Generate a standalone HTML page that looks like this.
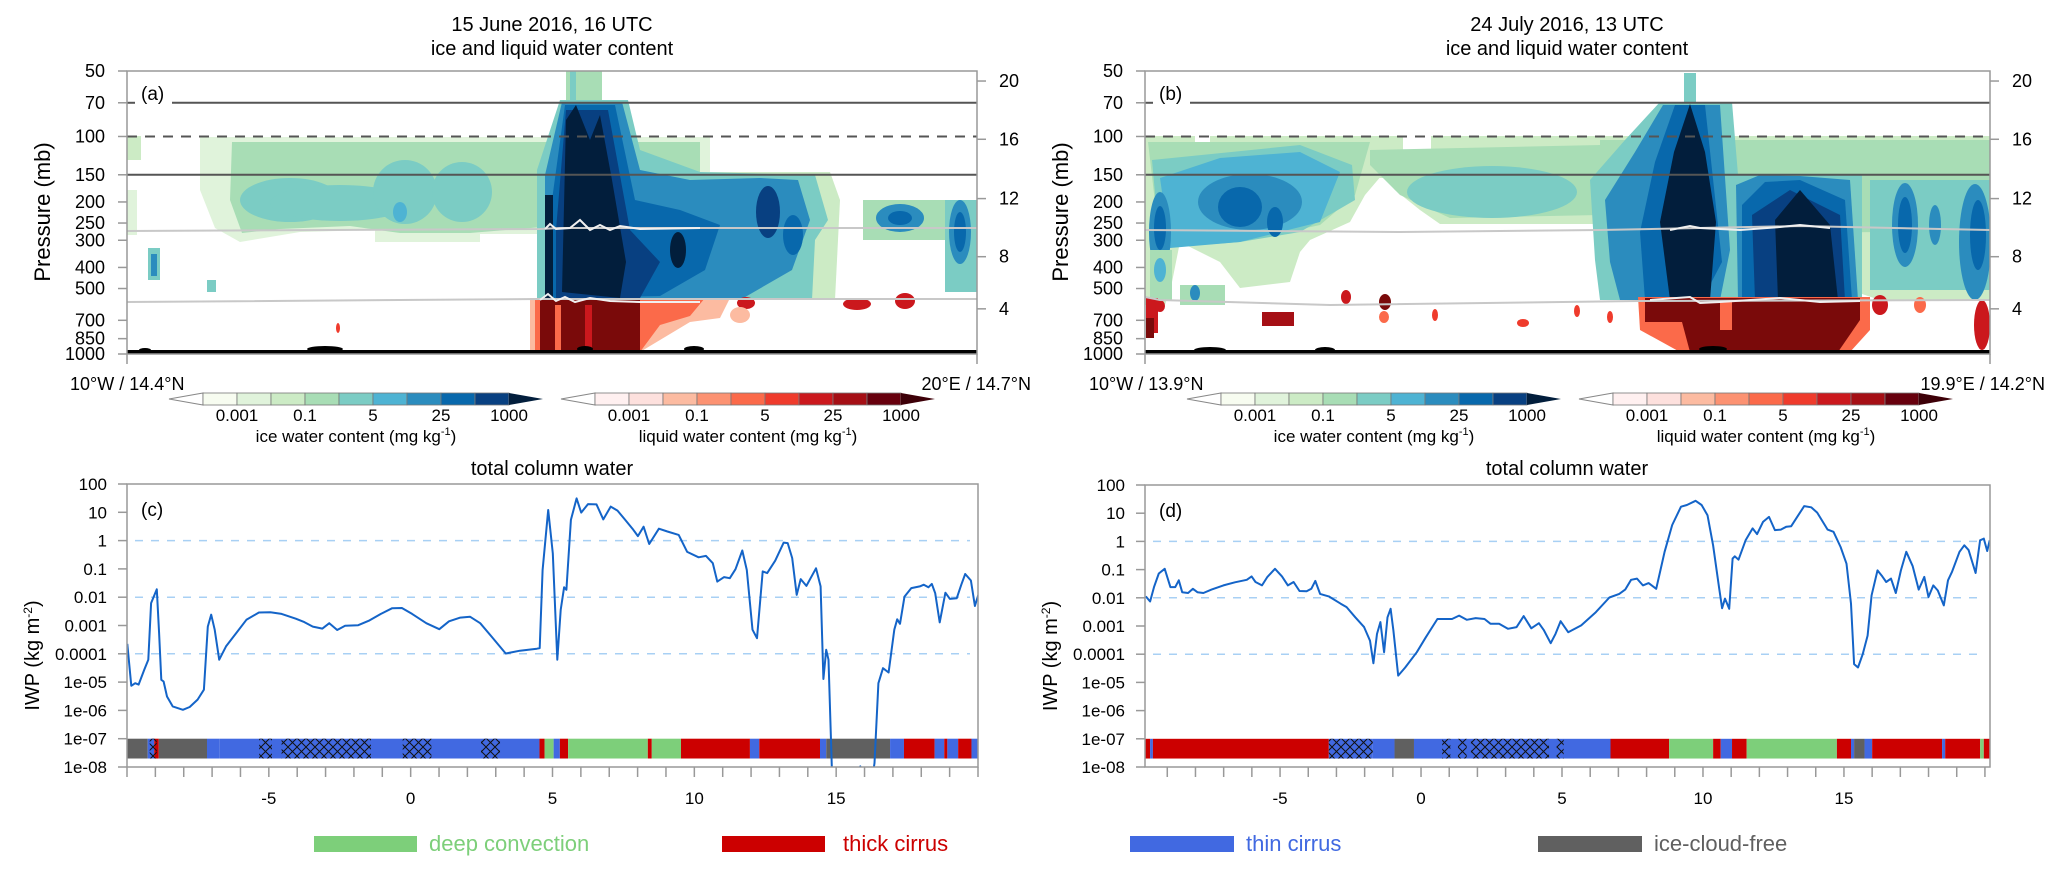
<!DOCTYPE html>
<html><head><meta charset="utf-8"><style>
html,body{margin:0;padding:0;background:#fff;}
svg{display:block;font-family:"Liberation Sans",sans-serif;}
</style></head><body>
<svg id="fig" width="2067" height="878" viewBox="0 0 2067 878" xmlns="http://www.w3.org/2000/svg">
<defs>
<pattern id="hatch" width="9" height="9" patternUnits="userSpaceOnUse">
<path d="M0,0 L9,9 M9,0 L0,9" stroke="#111" stroke-width="1" fill="none"/>
</pattern>
<clipPath id="clipA"><rect x="127" y="71" width="850" height="283"/></clipPath>
<clipPath id="clipB"><rect x="1145" y="71" width="845" height="283"/></clipPath>
<clipPath id="clipC"><rect x="127" y="484" width="851" height="283"/></clipPath>
<clipPath id="clipD"><rect x="1145" y="485" width="845" height="282"/></clipPath>
</defs>

<!-- Titles -->
<text x="552" y="31" font-size="20" text-anchor="middle">15 June 2016, 16 UTC</text>
<text x="552" y="55" font-size="20" text-anchor="middle">ice and liquid water content</text>
<text x="1567" y="31" font-size="20" text-anchor="middle">24 July 2016, 13 UTC</text>
<text x="1567" y="55" font-size="20" text-anchor="middle">ice and liquid water content</text>
<text x="552" y="475" font-size="20" text-anchor="middle">total column water</text>
<text x="1567" y="475" font-size="20" text-anchor="middle">total column water</text>

<!-- Panel a contour field -->
<g clip-path="url(#clipA)">
<rect x="127" y="136" width="14" height="24" fill="#ccebc5"/>
<rect x="127" y="190" width="10" height="45" fill="#e0f3db"/>
<polygon fill="#e0f3db" points="200,137 710,137 710,180 560,180 560,234 480,234 480,242 375,242 375,230 300,232 240,242 215,228 200,190"/>
<polygon fill="#a8ddb5" points="232,142 700,142 700,172 560,172 555,226 470,233 400,233 350,226 280,229 242,233 230,200"/>
<ellipse cx="290" cy="200" rx="50" ry="22" fill="#7bccc4"/>
<ellipse cx="340" cy="203" rx="70" ry="18" fill="#7bccc4"/>
<ellipse cx="405" cy="192" rx="32" ry="32" fill="#7bccc4"/>
<ellipse cx="462" cy="192" rx="30" ry="30" fill="#7bccc4"/>
<ellipse cx="400" cy="212" rx="7" ry="10" fill="#4eb3d3"/>
<rect x="148" y="248" width="12" height="32" fill="#7bccc4"/>
<rect x="151" y="254" width="6" height="22" fill="#2b8cbe"/>
<rect x="207" y="280" width="9" height="12" fill="#7bccc4"/>
<rect x="566" y="71" width="36" height="35" fill="#a8ddb5"/>
<rect x="570" y="71" width="6" height="35" fill="#7bccc4"/>
<polygon fill="#ccebc5" points="700,172 830,172 840,200 835,300 700,300"/>
<polygon fill="#7bccc4" points="537,170 560,100 628,100 640,150 700,172 815,175 828,220 815,240 812,300 537,300"/>
<polygon fill="#2b8cbe" points="545,175 562,102 622,102 640,170 690,180 760,178 798,180 810,220 792,270 740,300 545,300"/>
<polygon fill="#0868ac" points="552,200 565,105 615,105 635,200 680,210 720,225 705,270 660,296 552,298"/>
<polygon fill="#084081" points="556,230 566,110 608,110 630,230 660,262 640,298 556,298"/>
<ellipse cx="768" cy="212" rx="12" ry="26" fill="#084081"/>
<ellipse cx="793" cy="235" rx="10" ry="20" fill="#0868ac"/>
<ellipse cx="678" cy="250" rx="8" ry="18" fill="#021e3c"/>
<polygon fill="#021e3c" points="562,292 566,120 576,105 590,140 600,115 612,180 626,262 620,298"/>
<rect x="545" y="195" width="8" height="103" fill="#021e3c"/>
<rect x="863" y="200" width="94" height="40" fill="#a8ddb5"/>
<ellipse cx="900" cy="218" rx="24" ry="14" fill="#2b8cbe"/>
<ellipse cx="900" cy="218" rx="12" ry="7" fill="#0868ac"/>
<rect x="945" y="200" width="32" height="92" fill="#7bccc4"/>
<ellipse cx="960" cy="232" rx="11" ry="32" fill="#2b8cbe"/>
<ellipse cx="960" cy="232" rx="6" ry="20" fill="#0868ac"/>
<polygon fill="#fcbba1" points="530,298 730,298 720,318 690,322 660,340 640,352 530,352"/>
<polygon fill="#fb6a4a" points="535,298 705,298 690,316 660,325 640,352 535,352"/>
<polygon fill="#7a0a0a" points="540,300 640,300 640,352 540,352"/>
<rect x="555" y="305" width="6" height="47" fill="#fb6a4a"/>
<rect x="585" y="305" width="7" height="47" fill="#cb181d"/>
<ellipse cx="746" cy="303" rx="9" ry="6" fill="#cb181d"/>
<ellipse cx="857" cy="304" rx="14" ry="6" fill="#cb181d"/>
<ellipse cx="905" cy="301" rx="10" ry="8" fill="#cb181d"/>
<ellipse cx="740" cy="315" rx="10" ry="8" fill="#fcbba1"/>
<ellipse cx="338" cy="328" rx="2" ry="5" fill="#ef3b2c"/>
<polyline fill="none" stroke="#c8c8c8" stroke-width="2" points="127,231 540,229 560,228 977,228"/>
<polyline fill="none" stroke="#f0f0f0" stroke-width="2" points="545,229 550,224 556,229 570,228 580,220 590,230 600,225 610,230 620,226 640,229 700,228"/>
<polyline fill="none" stroke="#c8c8c8" stroke-width="2" points="127,302 540,299 977,299"/>
<polyline fill="none" stroke="#f0f0f0" stroke-width="2" points="540,300 548,294 556,301 565,297 575,302 590,298 610,301 640,302 700,302"/>
<rect x="127" y="350" width="850" height="4" fill="#000"/>
<ellipse cx="145" cy="350" rx="6" ry="2" fill="#000"/>
<ellipse cx="325" cy="349" rx="18" ry="3" fill="#000"/>
<ellipse cx="585" cy="349" rx="8" ry="3" fill="#000"/>
<ellipse cx="694" cy="349" rx="10" ry="3" fill="#000"/>
</g>

<!-- Panel b contour field -->
<g clip-path="url(#clipB)">
<rect x="1145" y="136" width="845" height="42" fill="#ccebc5"/>
<polygon fill="#ccebc5" points="1145,136 1382,136 1382,175 1365,195 1350,222 1310,240 1300,252 1290,282 1240,288 1220,262 1180,242 1172,282 1165,305 1145,305"/>
<polygon fill="#ccebc5" points="1382,136 1605,136 1605,224 1440,224 1420,210 1395,190 1382,175"/>
<polygon fill="#ccebc5" points="1600,136 1990,136 1990,300 1880,300 1850,290 1600,245"/>
<rect x="1195" y="136" width="15" height="20" fill="#fff"/>
<rect x="1403" y="136" width="28" height="22" fill="#fff"/>
<polygon fill="#a8ddb5" points="1148,142 1370,142 1355,195 1320,225 1250,240 1160,245"/>
<polygon fill="#a8ddb5" points="1370,150 1600,145 1600,215 1450,218 1400,195 1370,165"/>
<polygon fill="#a8ddb5" points="1600,140 1990,140 1990,230 1880,232 1600,235"/>
<polygon fill="#7bccc4" points="1152,160 1300,145 1352,165 1355,200 1300,232 1240,242 1160,248"/>
<ellipse cx="1492" cy="192" rx="85" ry="26" fill="#7bccc4"/>
<polygon fill="#4eb3d3" points="1160,178 1220,158 1300,152 1340,172 1320,222 1240,242 1170,248"/>
<ellipse cx="1250" cy="202" rx="52" ry="28" fill="#2b8cbe"/>
<ellipse cx="1160" cy="232" rx="11" ry="40" fill="#2b8cbe"/>
<ellipse cx="1240" cy="207" rx="22" ry="20" fill="#0868ac"/>
<ellipse cx="1160" cy="228" rx="6" ry="22" fill="#0868ac"/>
<ellipse cx="1275" cy="222" rx="8" ry="15" fill="#0868ac"/>
<rect x="1150" y="250" width="22" height="50" fill="#a8ddb5"/>
<ellipse cx="1160" cy="270" rx="6" ry="12" fill="#4eb3d3"/>
<rect x="1180" y="285" width="45" height="20" fill="#a8ddb5"/>
<ellipse cx="1195" cy="293" rx="5" ry="8" fill="#2b8cbe"/>
<rect x="1684" y="73" width="12" height="32" fill="#7bccc4"/>
<polygon fill="#7bccc4" points="1590,180 1625,140 1660,102 1732,102 1738,175 1732,300 1600,300 1595,260"/>
<polygon fill="#2b8cbe" points="1605,200 1635,152 1663,105 1720,105 1730,250 1720,300 1620,300 1610,262"/>
<polygon fill="#0868ac" points="1640,232 1655,162 1675,105 1705,105 1722,262 1702,300 1645,300"/>
<polygon fill="#021e3c" points="1670,300 1660,222 1674,152 1690,104 1705,152 1716,222 1710,300"/>
<rect x="1732" y="175" width="130" height="128" fill="#7bccc4"/>
<polygon fill="#2b8cbe" points="1736,185 1760,175 1800,176 1850,180 1858,300 1738,300"/>
<polygon fill="#0868ac" points="1742,205 1765,182 1800,180 1845,200 1852,300 1742,300"/>
<polygon fill="#084081" points="1752,215 1790,190 1840,215 1845,300 1755,300"/>
<polygon fill="#021e3c" points="1775,220 1800,190 1830,225 1838,300 1778,300"/>
<rect x="1870" y="180" width="120" height="110" fill="#7bccc4"/>
<ellipse cx="1905" cy="225" rx="13" ry="42" fill="#2b8cbe"/>
<ellipse cx="1905" cy="225" rx="7" ry="28" fill="#0868ac"/>
<ellipse cx="1935" cy="225" rx="6" ry="20" fill="#2b8cbe"/>
<ellipse cx="1975" cy="242" rx="16" ry="58" fill="#2b8cbe"/>
<ellipse cx="1978" cy="235" rx="8" ry="35" fill="#0868ac"/>
<polygon fill="#fb6a4a" points="1638,297 1870,297 1870,330 1850,352 1680,352 1640,330"/>
<polygon fill="#7a0a0a" points="1645,298 1860,298 1860,320 1838,352 1690,352 1682,322 1645,322"/>
<rect x="1720" y="300" width="12" height="30" fill="#fb6a4a"/>
<rect x="1146" y="298" width="12" height="35" fill="#cb181d"/>
<rect x="1146" y="318" width="8" height="20" fill="#7a0a0a"/>
<rect x="1262" y="312" width="32" height="14" fill="#a50f15"/>
<ellipse cx="1160" cy="306" rx="5" ry="6" fill="#cb181d"/>
<ellipse cx="1346" cy="297" rx="5" ry="7" fill="#cb181d"/>
<ellipse cx="1385" cy="302" rx="6" ry="8" fill="#7a0a0a"/>
<ellipse cx="1384" cy="317" rx="5" ry="6" fill="#fb6a4a"/>
<ellipse cx="1435" cy="315" rx="3" ry="6" fill="#ef3b2c"/>
<ellipse cx="1523" cy="323" rx="6" ry="4" fill="#ef3b2c"/>
<ellipse cx="1577" cy="311" rx="3" ry="6" fill="#ef3b2c"/>
<ellipse cx="1610" cy="317" rx="3" ry="6" fill="#ef3b2c"/>
<ellipse cx="1880" cy="305" rx="8" ry="10" fill="#cb181d"/>
<ellipse cx="1920" cy="305" rx="6" ry="8" fill="#fb6a4a"/>
<ellipse cx="1982" cy="325" rx="8" ry="25" fill="#cb181d"/>
<polyline fill="none" stroke="#c8c8c8" stroke-width="2" points="1145,230 1400,232 1600,230 1700,228 1800,226 1990,230"/>
<polyline fill="none" stroke="#f0f0f0" stroke-width="2" points="1670,230 1690,226 1700,228 1740,230 1780,227 1800,225 1830,228"/>
<polyline fill="none" stroke="#c8c8c8" stroke-width="2" points="1145,297 1160,300 1330,305 1640,301 1990,300"/>
<polyline fill="none" stroke="#f0f0f0" stroke-width="2" points="1650,300 1690,297 1700,303 1720,302 1780,298 1820,302 1860,301"/>
<rect x="1145" y="350" width="845" height="4" fill="#000"/>
<ellipse cx="1210" cy="350" rx="16" ry="3" fill="#000"/>
<ellipse cx="1325" cy="350" rx="10" ry="3" fill="#000"/>
<ellipse cx="1713" cy="349" rx="14" ry="3" fill="#000"/>
</g>

<g id="axesAB"></g>
<g id="colorbars"></g>
<g id="iwp"></g>

<g font-size="22">
<rect x="314" y="836" width="103" height="16" fill="#7dcf7a"/>
<text x="429" y="851" fill="#7dcf7a">deep convection</text>
<rect x="722" y="836" width="103" height="16" fill="#cc0000"/>
<text x="843" y="851" fill="#cc0000">thick cirrus</text>
<rect x="1130" y="836" width="104" height="16" fill="#4169e1"/>
<text x="1246" y="851" fill="#4169e1">thin cirrus</text>
<rect x="1538" y="836" width="104" height="16" fill="#606060"/>
<text x="1654" y="851" fill="#606060">ice-cloud-free</text>
</g>
</svg>

<script>
const pressureTicks = [50,70,100,150,200,250,300,400,500,700,850,1000];
const kmTicks = [20,16,12,8,4];
const kmPressure = [55.6,103,193,357,620];
const iwpTickLabels = ["100","10","1","0.1","0.01","0.001","0.0001","1e-05","1e-06","1e-07","1e-08"];
const xTickLabels = [-5,0,5,10,15];
const gridLogs = [0,-2,-4];
const cbLabels = ["0.001","0.1","5","25","1000"];
const iceColors = ["#f7fcf0","#e0f3db","#ccebc5","#a8ddb5","#7bccc4","#4eb3d3","#2b8cbe","#0868ac","#084081"];
const liqColors = ["#fff0f0","#fde0dd","#fcbba1","#fc9272","#fb6a4a","#ef3b2c","#cb181d","#a50f15","#67000d"];

const cLon = [-9.99,-9.85,-9.71,-9.59,-9.39,-9.25,-9.15,-8.95,-8.87,-8.79,-8.71,-8.59,-8.39,-8.03,-7.79,-7.51,-7.29,-7.15,-7.03,-6.91,-6.75,-6.51,-6.15,-5.79,-5.35,-4.95,-4.55,-4.05,-3.75,-3.45,-3.11,-2.87,-2.59,-2.31,-1.85,-1.45,-1.05,-0.65,-0.31,0.05,0.55,1.01,1.35,1.75,2.09,2.45,2.85,3.35,3.85,4.45,4.55,4.65,4.85,5.01,5.17,5.29,5.41,5.49,5.65,5.85,6.01,6.25,6.55,6.79,7.05,7.29,7.55,7.85,8.01,8.21,8.41,8.75,9.05,9.45,9.75,10.15,10.41,10.65,10.81,11.05,11.25,11.45,11.69,11.85,12.05,12.21,12.41,12.57,12.85,13.15,13.29,13.45,13.61,13.75,13.95,14.29,14.45,14.55,14.65,14.73,14.85,15.05,15.65,15.85,16.15,16.35,16.49,16.65,16.85,17.05,17.15,17.25,17.41,17.65,17.95,18.09,18.25,18.37,18.49,18.65,18.85,19.01,19.25,19.41,19.55,19.75,19.89,20.01];
const cLogIWP = [-3.65,-5.13,-5.04,-5.09,-4.56,-4.21,-2.21,-1.72,-3.27,-4.92,-4.98,-5.51,-5.86,-5.98,-5.88,-5.62,-5.27,-3.04,-2.62,-3.15,-4.21,-3.74,-3.27,-2.80,-2.54,-2.53,-2.59,-2.76,-2.88,-3.04,-3.11,-2.92,-3.16,-3.01,-2.99,-2.82,-2.59,-2.39,-2.38,-2.59,-2.92,-3.13,-2.85,-2.72,-2.69,-2.92,-3.39,-3.99,-3.89,-3.82,-3.80,-1.04,1.08,-0.45,-4.21,-2.45,-1.65,-1.74,0.73,1.49,0.99,1.29,1.28,0.75,1.20,1.06,0.75,0.38,0.16,0.49,-0.12,0.42,0.32,0.20,-0.40,-0.59,-0.54,-0.80,-1.45,-1.29,-1.33,-1.01,-0.35,-1.04,-3.15,-3.45,-1.09,-1.15,-0.71,-0.07,-0.09,-0.62,-1.92,-1.36,-1.60,-0.98,-1.62,-4.89,-3.86,-4.21,-8.1,-9.9,-9.5,-7.98,-9.3,-7.86,-5.04,-4.51,-4.66,-3.15,-2.78,-2.94,-1.98,-1.68,-1.62,-1.56,-1.65,-1.53,-1.86,-2.89,-1.84,-2.06,-2.04,-1.56,-1.18,-1.41,-2.31,-1.92];

const dLon = [-9.76,-9.61,-9.47,-9.30,-9.09,-8.89,-8.72,-8.59,-8.47,-8.26,-8.09,-7.93,-7.72,-7.43,-7.01,-6.60,-6.18,-6.01,-5.87,-5.64,-5.45,-5.18,-4.93,-4.72,-4.52,-4.31,-4.06,-3.89,-3.75,-3.58,-3.27,-2.85,-2.64,-2.33,-2.02,-1.81,-1.69,-1.56,-1.44,-1.31,-1.19,-1.08,-0.98,-0.81,-0.56,-0.15,0.17,0.58,0.89,1.10,1.35,1.62,1.94,2.25,2.46,2.77,3.08,3.39,3.64,3.91,4.18,4.35,4.60,4.77,4.95,5.22,5.68,6.20,6.68,7.03,7.24,7.45,7.66,7.87,8.07,8.34,8.49,8.64,8.91,9.22,9.43,9.74,9.95,10.16,10.36,10.57,10.68,10.78,10.93,11.05,11.13,11.26,11.51,11.76,11.92,12.13,12.34,12.55,12.76,12.96,13.13,13.38,13.59,13.84,14.05,14.42,14.63,14.88,15.09,15.25,15.36,15.50,15.67,15.84,15.98,16.19,16.36,16.50,16.67,16.84,17.02,17.21,17.44,17.65,17.85,18.00,18.17,18.33,18.54,18.69,18.83,19.10,19.27,19.42,19.67,19.83,19.96,20.08,20.17];
const dLogIWP = [-1.95,-2.13,-1.62,-1.14,-0.97,-1.62,-1.62,-1.38,-1.80,-1.83,-1.68,-1.80,-1.83,-1.71,-1.56,-1.45,-1.36,-1.24,-1.44,-1.56,-1.26,-0.97,-1.24,-1.56,-1.44,-1.76,-1.77,-1.68,-1.40,-1.86,-1.95,-2.21,-2.33,-2.69,-3.04,-3.52,-4.32,-3.28,-2.86,-3.93,-2.69,-2.39,-3.16,-4.76,-4.47,-3.93,-3.40,-2.75,-2.75,-2.75,-2.63,-2.78,-2.72,-2.75,-2.92,-2.92,-3.10,-3.04,-2.65,-3.08,-2.90,-3.14,-3.61,-3.28,-2.83,-3.22,-2.98,-2.51,-1.99,-1.86,-1.71,-1.36,-1.32,-1.56,-1.48,-1.68,-1.03,-0.37,0.58,1.23,1.29,1.44,1.29,0.93,-0.14,-1.62,-2.37,-2.03,-2.39,-0.61,-0.53,-0.65,0.04,0.46,0.26,0.69,0.87,0.40,0.42,0.52,0.54,0.93,1.25,1.21,1.02,0.42,0.34,-0.20,-0.79,-2.21,-4.35,-4.47,-3.99,-3.34,-1.91,-1.03,-1.24,-1.44,-1.32,-1.83,-1.03,-0.37,-0.88,-1.71,-1.26,-1.97,-1.56,-1.74,-2.27,-1.38,-1.09,-0.37,-0.14,-0.31,-1.12,0.04,0.10,-0.34,0.04];

const cStripStart = [-10,-9.27,-9.04,-8.88,-7.18,-6.73,4.54,4.72,5.04,5.26,5.55,8.36,8.50,9.53,11.96,12.29,14.43,14.65,16.90,17.39,18.47,18.81,18.92,19.30,19.77];
const cStripEnd   = [-9.27,-9.04,-8.88,-7.18,-6.73,4.54,4.72,5.04,5.26,5.55,8.36,8.50,9.53,11.96,12.29,14.43,14.65,16.90,17.39,18.47,18.81,18.92,19.30,19.77,20.0];
const cStripClass = ["free","thin","thick","free","thin","thin","thick","deep","thin","thick","deep","thick","deep","thick","thin","thick","thin","free","thin","thick","thin","thick","thin","thick","thin"];
const cHatchStart = [-5.34,-4.55,-0.28,2.48,-9.2];
const cHatchEnd   = [-4.89,-1.40,0.73,3.15,-8.95];

const dStripStart = [-9.8,-9.61,-9.51,-3.27,-1.71,-0.94,-0.25,6.72,8.80,10.36,10.63,11.03,11.55,14.75,15.25,15.36,15.73,16.00,18.48,18.59,19.83,19.96];
const dStripEnd   = [-9.61,-9.51,-3.27,-1.71,-0.94,-0.25,6.72,8.80,10.36,10.63,11.03,11.55,14.75,15.25,15.36,15.73,16.00,18.48,18.59,19.83,19.96,20.17];
const dStripClass = ["thick","thin","thick","thin","thin","free","thin","thick","deep","thick","thin","thick","deep","thick","thin","free","thin","thick","thin","thick","deep","thick"];
const dHatchStart = [-3.27,0.75,1.31,1.77,4.81];
const dHatchEnd   = [-1.71,1.04,1.62,4.54,5.06];

const classColor = {deep:"#7dcf7a", thick:"#cc0000", thin:"#4169e1", free:"#606060"};

const NS = "http://www.w3.org/2000/svg";
function mk(tag, attrs, parent){
  const e = document.createElementNS(NS, tag);
  for (const k in attrs) e.setAttribute(k, attrs[k]);
  parent.appendChild(e);
  return e;
}
const L50 = Math.log10(50), L1000 = Math.log10(1000);
function yP(p){ return 71 + (Math.log10(p)-L50)/(L1000-L50)*283; }
function addText(parent, x, y, s, size, anchor, name){
  const t = mk('text',{x:x,y:y,'font-size':size,'text-anchor':anchor||'start'},parent);
  t.textContent = s;
  
  
  return t;
}

const axAB = document.getElementById('axesAB');
[[127,977,"a"],[1145,1990,"b"]].forEach(([x0,x1,k])=>{
  const g = mk('g',{},axAB);
  
  
  const l70 = mk('line',{x1:x0+45,x2:x1,y1:yP(70),y2:yP(70),stroke:'#555','stroke-width':2},g);
  
  
  mk('line',{x1:x0,x2:x0+8,y1:yP(70),y2:yP(70),stroke:'#555','stroke-width':2},g);
  const l100 = mk('line',{x1:x0,x2:x1,y1:yP(100),y2:yP(100),stroke:'#555','stroke-width':2,'stroke-dasharray':'10,8'},g);
  
  
  const l150 = mk('line',{x1:x0,x2:x1,y1:yP(150),y2:yP(150),stroke:'#555','stroke-width':2},g);
  
  
  const fr = mk('rect',{x:x0,y:71,width:x1-x0,height:283,fill:'none',stroke:'#999','stroke-width':1.5},g);
  
  
  addText(g, x0+14, 100, '('+k+')', 19, 'start', 'panel-'+k+'-label');
  pressureTicks.forEach(p=>{
    const y = yP(p);
    mk('line',{x1:x0-9,x2:x0,y1:y,y2:y,stroke:'#999','stroke-width':1.5},g);
    addText(g, x0-22, y+6, String(p), 18, 'end', 'pressure-tick-label');
  });
  kmTicks.forEach((km,i)=>{
    const y = yP(kmPressure[i]);
    mk('line',{x1:x1,x2:x1+9,y1:y,y2:y,stroke:'#999','stroke-width':1.5},g);
    addText(g, x1+22, y+6, String(km), 18, 'start', 'height-km-tick-label');
  });
  mk('line',{x1:x0,x2:x0,y1:354,y2:364,stroke:'#999','stroke-width':1.5},g);
  mk('line',{x1:x1,x2:x1,y1:354,y2:364,stroke:'#999','stroke-width':1.5},g);
  const yt = mk('text',{x:0,y:0,'font-size':22,'text-anchor':'middle',transform:'translate('+(x0-77)+',212) rotate(-90)'},g);
  yt.textContent = 'Pressure (mb)';
  
  
});
addText(axAB,70,390,'10°W / 14.4°N',18,'start','transect-start-a');
addText(axAB,1031,390,'20°E / 14.7°N',18,'end','transect-end-a');
addText(axAB,1089,390,'10°W / 13.9°N',18,'start','transect-start-b');
addText(axAB,2045,390,'19.9°E / 14.2°N',18,'end','transect-end-b');

const cbG = document.getElementById('colorbars');
function colorbar(x0, colors, endColor, title, name){
  const g = mk('g',{},cbG);
  
  
  const bw = 34, y0 = 393, h = 12;
  mk('polygon',{points:(x0)+','+(y0+h/2)+' '+(x0+34)+','+y0+' '+(x0+34)+','+(y0+h),fill:'#fff',stroke:'#888','stroke-width':1},g);
  colors.forEach((c,i)=>{
    mk('rect',{x:x0+34+i*bw,y:y0,width:bw,height:h,fill:c,stroke:'#777','stroke-width':0.8},g);
  });
  const xe = x0+34+colors.length*bw;
  mk('polygon',{points:xe+','+y0+' '+(xe+34)+','+(y0+h/2)+' '+xe+','+(y0+h),fill:endColor},g);
  cbLabels.forEach((s,i)=>{
    addText(g, x0+34+bw*(1+2*i), 421, s, 17, 'middle','colorbar-tick-label');
  });
  const tt = mk('text',{x:x0+34+bw*4.5,y:442,'font-size':17,'text-anchor':'middle'},g);
  tt.innerHTML = title + ' (mg kg<tspan dy="-7" font-size="11">-1</tspan><tspan dy="7">)</tspan>';
  
  
}
colorbar(169, iceColors, "#021e3c", "ice water content", "ice-colorbar-a");
colorbar(561, liqColors, "#3d0008", "liquid water content", "liquid-colorbar-a");
colorbar(1187, iceColors, "#021e3c", "ice water content", "ice-colorbar-b");
colorbar(1579, liqColors, "#3d0008", "liquid water content", "liquid-colorbar-b");

const iwpG = document.getElementById('iwp');
function iwpPanel(opt){
  const {x0,x1,y0,y1,lon0,lon1,lon,logv,ss,se,sc,hs,he,clip,k} = opt;
  const g = mk('g',{},iwpG);
  
  
  const xs = v => x0 + (v-lon0)/(lon1-lon0)*(x1-x0);
  const ys = l => y0 + (2-l)/10*(y1-y0);
  gridLogs.forEach(l=>{
    const gl = mk('line',{x1:x0+8,x2:x1-8,y1:ys(l),y2:ys(l),stroke:'#a8d0f4','stroke-width':1.5,'stroke-dasharray':'8,8'},g);
    
    
  });
  const sy0 = ys(-7), sy1 = ys(-7.7);
  const sg = mk('g',{},g);
  
  
  ss.forEach((s,i)=>{
    const r = mk('rect',{x:xs(s),y:sy0,width:Math.max(0.5,xs(se[i])-xs(s)),height:sy1-sy0,fill:classColor[sc[i]]},sg);
    
    
  });
  hs.forEach((s,i)=>{
    const r = mk('rect',{x:xs(s),y:sy0,width:xs(he[i])-xs(s),height:sy1-sy0,fill:'url(#hatch)'},sg);
    
    
  });
  const pts = lon.map((v,i)=>xs(v).toFixed(1)+','+ys(logv[i]).toFixed(1)).join(' ');
  const pl = mk('polyline',{points:pts,fill:'none',stroke:'#1464c8','stroke-width':2,'stroke-linejoin':'round','clip-path':'url(#'+clip+')'},g);
  
  
  const fr = mk('rect',{x:x0,y:y0,width:x1-x0,height:y1-y0,fill:'none',stroke:'#999','stroke-width':1.5},g);
  
  
  iwpTickLabels.forEach((s,i)=>{
    const y = ys(2-i);
    mk('line',{x1:x0-9,x2:x0,y1:y,y2:y,stroke:'#999','stroke-width':1.5},g);
    addText(g, x0-20, y+6, s, 17, 'end','iwp-tick-label');
  });
  for (let v=Math.ceil(lon0); v<=Math.floor(lon1); v++){
    const x = xs(v);
    mk('line',{x1:x,x2:x,y1:y1,y2:y1+10,stroke:'#999','stroke-width':1.5},g);
  }
  xTickLabels.forEach(v=>{
    addText(g, xs(v), 804, String(v), 17, 'middle','lon-tick-label');
  });
  addText(g, x0+14, y0+32, '('+k+')', 19, 'start','panel-'+k+'-label');
  const yt = mk('text',{x:0,y:0,'font-size':20,'text-anchor':'middle',transform:'translate('+(x0-88)+','+((y0+y1)/2+30)+') rotate(-90)'},g);
  yt.innerHTML = 'IWP (kg m<tspan dy="-7" font-size="12">-2</tspan><tspan dy="7">)</tspan>';
  
  
}
iwpPanel({x0:127,x1:978,y0:484,y1:767,lon0:-10,lon1:20,lon:cLon,logv:cLogIWP,ss:cStripStart,se:cStripEnd,sc:cStripClass,hs:cHatchStart,he:cHatchEnd,clip:'clipC',k:'c'});
iwpPanel({x0:1145,x1:1990,y0:485,y1:767,lon0:-9.79,lon1:20.18,lon:dLon,logv:dLogIWP,ss:dStripStart,se:dStripEnd,sc:dStripClass,hs:dHatchStart,he:dHatchEnd,clip:'clipD',k:'d'});
</script>
</body></html>
